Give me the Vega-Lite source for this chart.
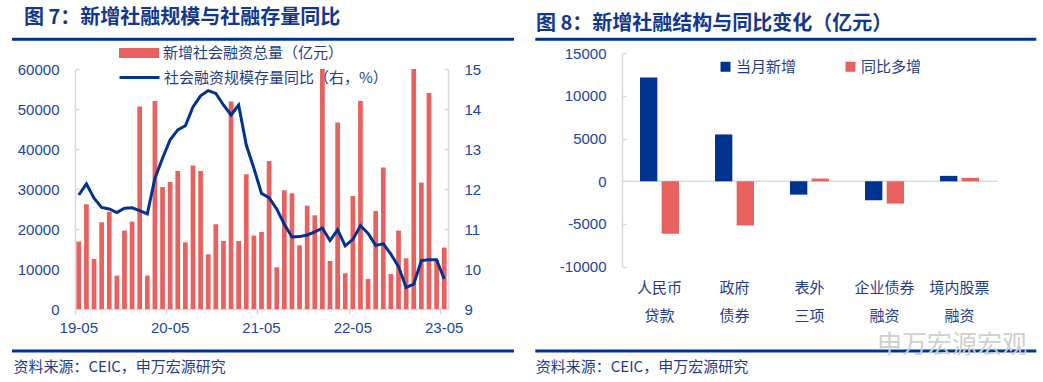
{
  "$schema": "https://vega.github.io/schema/vega-lite/v6.json",
  "padding": {"left": 10, "top": 8, "right": 13, "bottom": 0},
  "background": "white",
  "spacing": 17,
  "config": {
    "view": {"stroke": null},
    "font": "Noto Sans CJK SC",
    "axis": {"labelFont": "Liberation Sans", "labelFontSize": 15, "labelColor": "#2046A0", "domainColor": "#D9D9D9", "domainWidth": 1.5, "tickColor": "#D9D9D9", "tickWidth": 1.5, "grid": false, "labelOverlap": false},
    "legend": {"labelFont": "Noto Sans CJK SC", "labelFontSize": 15, "labelColor": "#1F3C88", "padding": 0, "titlePadding": 0, "labelLimit": 400},
    "title": {"font": "Noto Sans CJK SC", "fontSize": 20, "fontWeight": "bold", "color": "#12378F", "anchor": "start", "frame": "group", "offset": 4}
  },
  "datasets": {
    "tsf": [
      {"m":"19-05","tsf":16850,"yoy":11.85},
      {"m":"19-06","tsf":26175,"yoy":12.13},
      {"m":"19-07","tsf":12500,"yoy":11.77},
      {"m":"19-08","tsf":21675,"yoy":11.54},
      {"m":"19-09","tsf":24300,"yoy":11.5},
      {"m":"19-10","tsf":8350,"yoy":11.41},
      {"m":"19-11","tsf":19600,"yoy":11.52},
      {"m":"19-12","tsf":21850,"yoy":11.53},
      {"m":"20-01","tsf":50600,"yoy":11.46},
      {"m":"20-02","tsf":8350,"yoy":11.38},
      {"m":"20-03","tsf":52000,"yoy":12.27},
      {"m":"20-04","tsf":30500,"yoy":12.77},
      {"m":"20-05","tsf":31750,"yoy":13.23},
      {"m":"20-06","tsf":34500,"yoy":13.48},
      {"m":"20-07","tsf":16675,"yoy":13.58},
      {"m":"20-08","tsf":35850,"yoy":14.05},
      {"m":"20-09","tsf":34500,"yoy":14.33},
      {"m":"20-10","tsf":13675,"yoy":14.46},
      {"m":"20-11","tsf":21175,"yoy":14.39},
      {"m":"20-12","tsf":17000,"yoy":14.1},
      {"m":"21-01","tsf":51850,"yoy":13.85},
      {"m":"21-02","tsf":17000,"yoy":14.1},
      {"m":"21-03","tsf":33675,"yoy":13.1},
      {"m":"21-04","tsf":18350,"yoy":12.52},
      {"m":"21-05","tsf":19250,"yoy":11.89},
      {"m":"21-06","tsf":37000,"yoy":11.78},
      {"m":"21-07","tsf":10425,"yoy":11.5},
      {"m":"21-08","tsf":29675,"yoy":11.12},
      {"m":"21-09","tsf":28925,"yoy":10.8},
      {"m":"21-10","tsf":15925,"yoy":10.81},
      {"m":"21-11","tsf":25850,"yoy":10.85},
      {"m":"21-12","tsf":23425,"yoy":10.93},
      {"m":"22-01","tsf":60000,"yoy":11.02},
      {"m":"22-02","tsf":12000,"yoy":10.71},
      {"m":"22-03","tsf":46600,"yoy":10.98},
      {"m":"22-04","tsf":8925,"yoy":10.58},
      {"m":"22-05","tsf":28250,"yoy":10.74},
      {"m":"22-06","tsf":52000,"yoy":11.08},
      {"m":"22-07","tsf":7500,"yoy":10.89},
      {"m":"22-08","tsf":24500,"yoy":10.59},
      {"m":"22-09","tsf":35350,"yoy":10.63},
      {"m":"22-10","tsf":8750,"yoy":10.37},
      {"m":"22-11","tsf":19600,"yoy":10.06},
      {"m":"22-12","tsf":12675,"yoy":9.54},
      {"m":"23-01","tsf":60000,"yoy":9.62},
      {"m":"23-02","tsf":31600,"yoy":10.21},
      {"m":"23-03","tsf":54000,"yoy":10.23},
      {"m":"23-04","tsf":12200,"yoy":10.23},
      {"m":"23-05","tsf":15350,"yoy":9.75}
    ],
    "struct": [
      {"cat":"人民币|贷款","series":"当月新增","v":12160},
      {"cat":"人民币|贷款","series":"同比多增","v":-6150},
      {"cat":"政府|债券","series":"当月新增","v":5490},
      {"cat":"政府|债券","series":"同比多增","v":-5180},
      {"cat":"表外|三项","series":"当月新增","v":-1565},
      {"cat":"表外|三项","series":"同比多增","v":320},
      {"cat":"企业债券|融资","series":"当月新增","v":-2235},
      {"cat":"企业债券|融资","series":"同比多增","v":-2620},
      {"cat":"境内股票|融资","series":"当月新增","v":635},
      {"cat":"境内股票|融资","series":"同比多增","v":400}
    ]
  },
  "hconcat": [
    {
      "width": 373,
      "height": 240,
      "data": {"name": "tsf"},
      "title": {"text": "图 7：新增社融规模与社融存量同比", "dx": -51},
      "layer": [
        {
          "mark": {"type": "bar"},
          "encoding": {
            "x": {"field": "m", "type": "ordinal",
              "scale": {"paddingInner": 0.38, "paddingOuter": 0.19},
              "axis": {"values": ["19-05","20-05","21-05","22-05","23-05"], "bandPosition": -0.3, "labelAngle": 0, "tickSize": 5, "labelPadding": 6,
                "title": "资料来源：CEIC，申万宏源研究", "titleX": -62, "titleY": 57, "titleAlign": "left", "titleBaseline": "middle", "titleFontSize": 15, "titleFontWeight": "normal", "titleColor": "#1F3C88", "titleFont": "Noto Sans CJK SC"}},
            "y": {"field": "tsf", "type": "quantitative",
              "scale": {"domain": [0, 60000], "nice": false},
              "axis": {"values": [0, 10000, 20000, 30000, 40000, 50000, 60000], "tickCount": 20, "format": "d", "tickSize": -4, "labelPadding": 20, "labelOverlap": false, "title": null}},
            "fill": {"datum": "新增社会融资总量（亿元）", "type": "nominal",
              "scale": {"range": ["#E8615F"]},
              "legend": {"orient": "none", "legendX": 43, "legendY": -37, "title": null, "symbolType": "M-1,-0.25H1V0.25H-1Z", "symbolSize": 1600, "labelOffset": 3}}
          }
        },
        {
          "mark": {"type": "line", "strokeWidth": 3},
          "encoding": {
            "x": {"field": "m", "type": "ordinal"},
            "y": {"field": "yoy", "type": "quantitative",
              "scale": {"domain": [9, 15], "nice": false, "zero": false},
              "axis": {"orient": "right", "values": [9, 10, 11, 12, 13, 14, 15], "tickCount": 20, "format": "d", "tickSize": -4, "labelPadding": 20, "labelOverlap": false, "title": null}},
            "stroke": {"datum": "社会融资规模存量同比（右，%）", "type": "nominal",
              "scale": {"range": ["#00338F"]},
              "legend": {"orient": "none", "legendX": 43, "legendY": -13, "title": null, "symbolType": "stroke", "symbolSize": 1600, "symbolStrokeWidth": 3, "labelOffset": 3}}
          }
        },
        {
          "data": {"values": [{}]},
          "mark": {"type": "rule", "color": "#00338F", "strokeWidth": 3},
          "encoding": {"x": {"value": -63}, "x2": {"value": 439}, "y": {"value": -29.7}}
        },
        {
          "data": {"values": [{}]},
          "mark": {"type": "rule", "color": "#00338F", "strokeWidth": 3},
          "encoding": {"x": {"value": -63}, "x2": {"value": 439}, "y": {"value": 282}}
        }
      ],
      "resolve": {"scale": {"y": "independent", "fill": "independent", "stroke": "independent"}}
    },
    {
      "width": 375,
      "height": 197.6,
      "data": {"name": "struct"},
      "title": {"text": "图 8：新增社融结构与同比变化（亿元）", "dx": -86},
      "layer": [
        {
          "data": {"values": [{}]},
          "mark": {"type": "rule", "color": "#D9D9D9", "strokeWidth": 1.5},
          "encoding": {"y": {"datum": 0, "type": "quantitative"}}
        },
        {
          "mark": {"type": "bar"},
          "encoding": {
            "x": {"field": "cat", "type": "nominal",
              "sort": ["人民币|贷款","政府|债券","表外|三项","企业债券|融资","境内股票|融资"],
              "scale": {"paddingInner": 0.48, "paddingOuter": 0.24},
              "axis": {"labelExpr": "split(datum.value, '|')", "labelAngle": 0, "domain": false, "ticks": false, "labelPadding": 14, "labelLineHeight": 28, "labelColor": "#1F3C88", "labelFont": "Noto Sans CJK SC",
                "title": "资料来源：CEIC，申万宏源研究", "titleX": -86.7, "titleY": 99.7, "titleAlign": "left", "titleBaseline": "middle", "titleFontSize": 15, "titleFontWeight": "normal", "titleColor": "#1F3C88", "titleFont": "Noto Sans CJK SC"}},
            "xOffset": {"field": "series", "type": "nominal", "sort": ["当月新增","同比多增"], "scale": {"paddingInner": 0.2}},
            "y": {"field": "v", "type": "quantitative",
              "scale": {"domain": [-10000, 15000], "nice": false, "range": [197.6, -15.7]},
              "axis": {"values": [-10000, -5000, 0, 5000, 10000, 15000], "tickCount": 20, "labelExpr": "datum.value + ''", "tickSize": -4, "labelPadding": 20, "labelOverlap": false, "labelBound": false, "labelFlush": false, "title": null}},
            "fill": {"field": "series", "type": "nominal",
              "scale": {"domain": ["当月新增","同比多增"], "range": ["#00338F","#E8615F"]},
              "legend": {"orient": "none", "direction": "horizontal", "legendX": 643, "legendY": -10, "title": null, "symbolType": "square", "symbolSize": 100, "columnPadding": 46, "labelOffset": 3}}
          }
        },
        {
          "data": {"values": [{}]},
          "mark": {"type": "rule", "color": "#00338F", "strokeWidth": 3},
          "encoding": {"x": {"value": -86.7}, "x2": {"value": 414.3}, "y": {"value": -29.7}}
        },
        {
          "data": {"values": [{}]},
          "mark": {"type": "rule", "color": "#00338F", "strokeWidth": 3},
          "encoding": {"x": {"value": -86.7}, "x2": {"value": 414.3}, "y": {"value": 282}}
        },
        {
          "data": {"values": [{}]},
          "mark": {"type": "text", "text": "申万宏源宏观", "font": "Noto Sans CJK SC", "fontSize": 25, "color": "#CFCFCF", "align": "center", "baseline": "middle"},
          "encoding": {"x": {"value": 330}, "y": {"value": 276}}
        }
      ]
    }
  ]
}
